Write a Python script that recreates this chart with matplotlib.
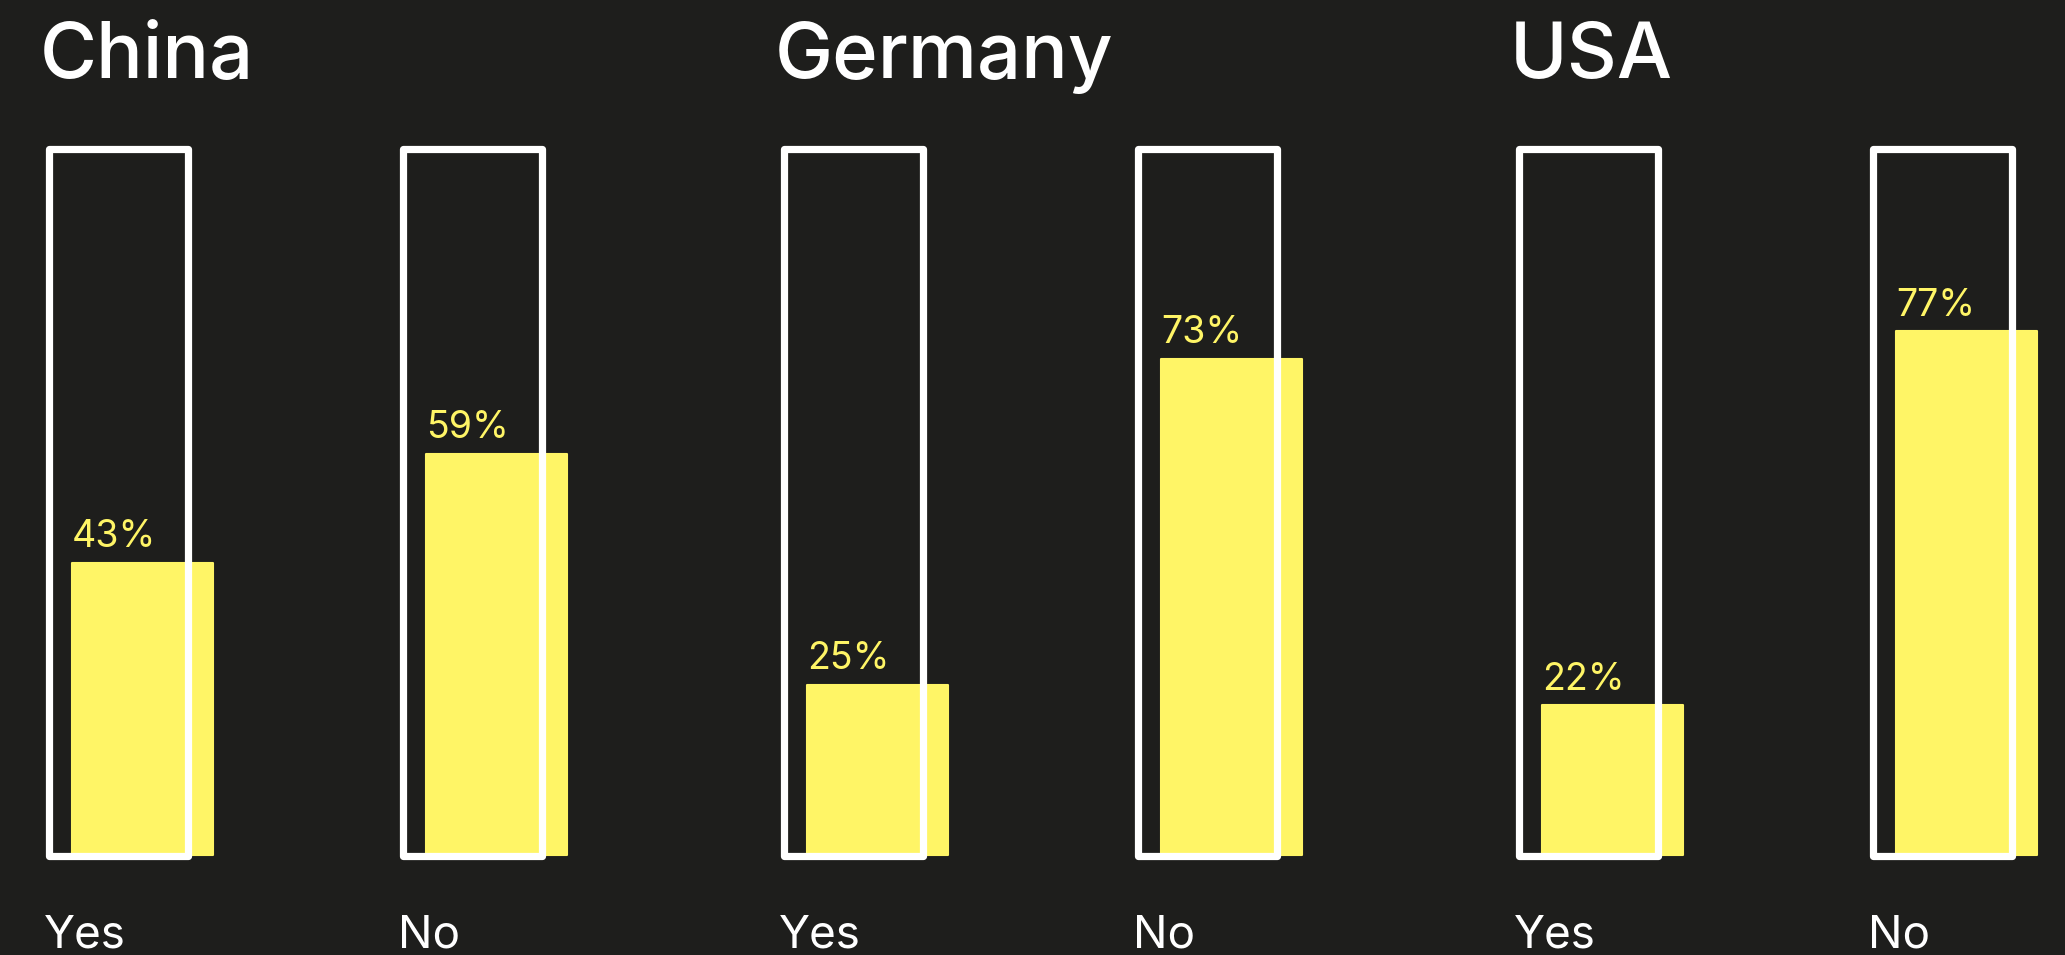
import matplotlib.pyplot as plt
import numpy as np

# data
countries = ['China', 'Germany', 'USA']
answers = ['Yes', 'No']
yes_pct = [43, 25, 22]
no_pct = [59, 73, 77]

BG = '#1e1e1c'
YELLOW = '#fff566'

plt.rcParams['font.family'] = ['Inter', 'DejaVu Sans']

fig = plt.figure(figsize=(20.65, 9.55), dpi=100, facecolor=BG)

panel_px = 735      # width of one country panel in pixels
slot_px = 354       # distance between Yes and No columns
px_per_pct = 6.8    # vertical scale

for i, country in enumerate(countries):
    ax = fig.add_axes([panel_px * i / 2065, 0, panel_px / 2065, 1])
    ax.set_facecolor(BG)
    ax.set_xlim(-0.335, -0.335 + panel_px / slot_px)
    ax.set_ylim(-100 / px_per_pct, 855 / px_per_pct)
    ax.axis('off')

    vals = [yes_pct[i], no_pct[i]]
    x = np.arange(len(answers))

    # filled bars, shifted a bit to the right of the outline
    ax.bar(x + 0.068, vals, width=0.398, color=YELLOW, edgecolor=YELLOW,
           linewidth=1.5, joinstyle='round', zorder=2)
    # white outline = full scale
    ax.bar(x, 104, bottom=-0.2, width=0.393, fill=False, edgecolor='white',
           linewidth=5.2, joinstyle='round', zorder=3)

    for xi, v in zip(x, vals):
        ax.text(xi + 0.068 - 0.199, v + 2.3, f'{v}%', color=YELLOW,
                fontsize=27, ha='left', va='baseline', zorder=4)
    for xi, a in zip(x, answers):
        ax.text(xi - 0.21, -13.6, a, color='white', fontsize=33,
                ha='left', va='baseline')

    ax.text(-0.222, 114.3, country, color='white', fontsize=56,
            fontweight='medium', ha='left', va='baseline')

fig.savefig('out.png', dpi=100, facecolor=BG)
